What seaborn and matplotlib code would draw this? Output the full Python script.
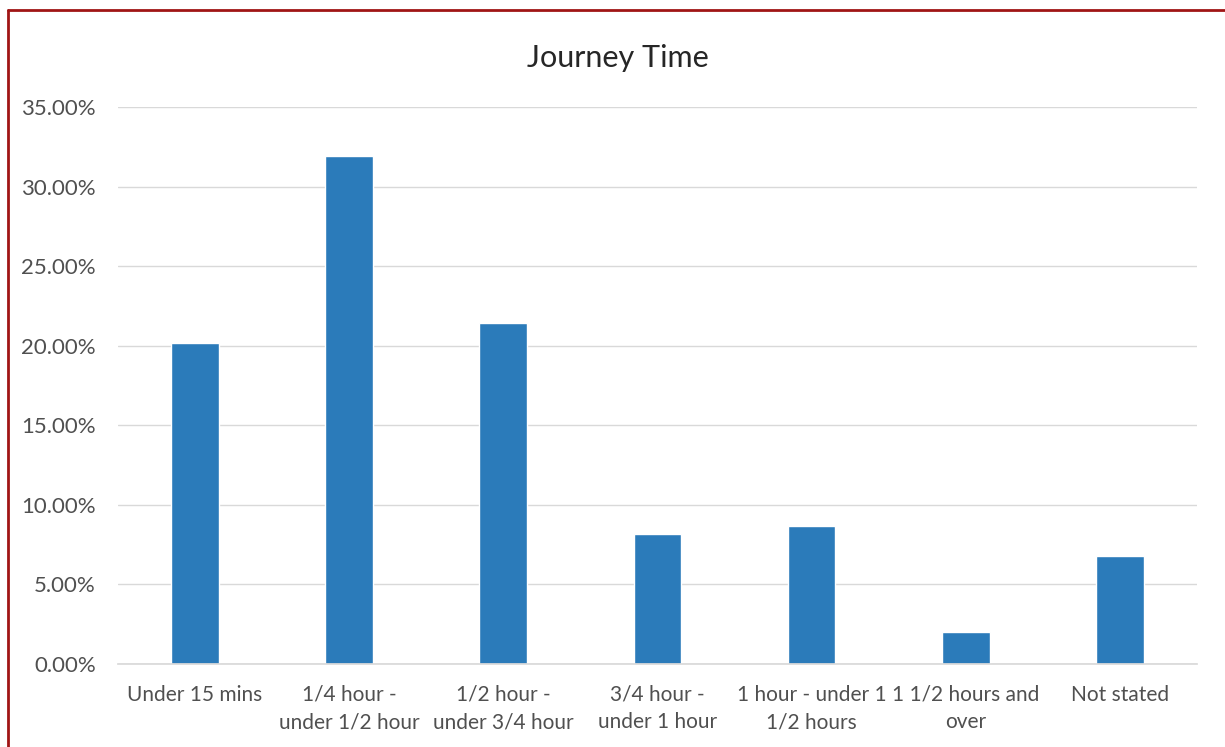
import matplotlib
matplotlib.use("Agg")
import matplotlib.pyplot as plt
import matplotlib.ticker as mticker
from matplotlib.lines import Line2D
import pandas as pd
import seaborn as sns

categories = ["Under 15 mins", "1/4 hour -\nunder 1/2 hour", "1/2 hour -\nunder 3/4 hour",
              "3/4 hour -\nunder 1 hour", "1 hour - under 1\n1/2 hours",
              "1 1/2 hours and\nover", "Not stated"]
share_pct = [20.2, 31.9, 21.4, 8.2, 8.7, 2.0, 6.8]

df = pd.DataFrame({"journey": categories, "share": share_pct})

sns.set_theme(style="white")
plt.rcParams["font.family"] = ["Lato", "DejaVu Sans"]
text_grey = "#505050"

fig = plt.figure(figsize=(12.25, 7.47), dpi=100)
ax = fig.add_axes([0.0963, 0.1111, 0.8807, 0.7457])

sns.barplot(data=df, x="journey", y="share", color="#2b7bba", saturation=1,
            width=0.31, ax=ax)

ax.set_ylim(0, 35)
ax.set_xlim(-0.5, len(categories) - 0.5)
ax.yaxis.set_major_locator(mticker.MultipleLocator(5))
ax.yaxis.set_major_formatter(mticker.FuncFormatter(lambda v, p: f"{v:.2f}%"))
ax.grid(axis="y", color="#d9d9d9", linewidth=1)
ax.set_axisbelow(True)
for s in ["top", "right", "left"]:
    ax.spines[s].set_visible(False)
ax.spines["bottom"].set_color("#d9d9d9")
ax.set_xlabel("")
ax.set_ylabel("")
ax.tick_params(axis="x", length=0, labelsize=15, labelcolor=text_grey, pad=15)
ax.tick_params(axis="y", length=0, labelsize=16, labelcolor=text_grey, pad=16)
for lbl in ax.get_xticklabels():
    lbl.set_linespacing(1.45)

fig.text(0.504, 0.923, "Journey Time", ha="center", va="center", fontsize=22,
         color="#262626")

# dark red frame (left and top edges visible in the source)
fig.add_artist(Line2D([0.0065, 0.0065], [0, 0.9866], transform=fig.transFigure,
                      color="#a01515", linewidth=2))
fig.add_artist(Line2D([0.0065, 1], [0.9866, 0.9866], transform=fig.transFigure,
                      color="#a01515", linewidth=2))

fig.savefig("out.png", dpi=100)
